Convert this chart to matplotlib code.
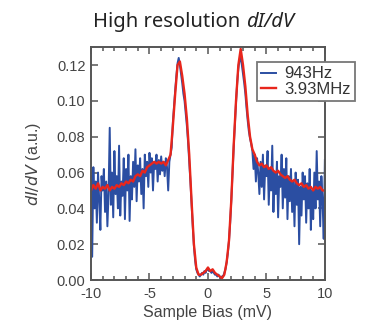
import matplotlib
matplotlib.use("Agg")
import matplotlib.pyplot as plt
import numpy as np
from matplotlib.ticker import MultipleLocator, FormatStrFormatter

# 943 Hz lock-in trace, bias -10 .. 10 mV in 0.1 mV steps
blue_left = [0.058, 0.013, 0.063, 0.040, 0.055, 0.032, 0.060, 0.045, 0.028, 0.058,
             0.050, 0.062, 0.038, 0.055, 0.030, 0.048, 0.085, 0.042, 0.060, 0.035,
             0.072, 0.048, 0.058, 0.040, 0.075, 0.036, 0.055, 0.047, 0.068, 0.034,
             0.062, 0.050, 0.070, 0.033, 0.058, 0.045, 0.066, 0.052, 0.073, 0.044,
             0.064, 0.055, 0.068, 0.048, 0.062, 0.040, 0.070, 0.058, 0.066, 0.052,
             0.071, 0.060, 0.068, 0.050, 0.066, 0.062, 0.070, 0.055, 0.067, 0.059,
             0.069, 0.061, 0.066, 0.058, 0.068, 0.063, 0.050, 0.066, 0.070]
blue_mid = [0.074, 0.088, 0.097, 0.106, 0.114, 0.121, 0.124, 0.120, 0.115, 0.110,
            0.104, 0.100, 0.093, 0.086, 0.077, 0.066, 0.055, 0.042, 0.030, 0.019,
            0.011, 0.006, 0.004, 0.003, 0.002, 0.003, 0.004, 0.003, 0.005, 0.004,
            0.006, 0.006, 0.005, 0.005, 0.004, 0.005, 0.004, 0.003, 0.003, 0.002,
            0.003, 0.002, 0.001, 0.002, 0.002, 0.004, 0.006, 0.010, 0.015, 0.022,
            0.032, 0.045, 0.060, 0.074, 0.087, 0.099, 0.110, 0.118, 0.123, 0.124,
            0.120, 0.115, 0.110, 0.104, 0.096, 0.089, 0.083, 0.079, 0.076]
blue_right = [0.072, 0.062, 0.070, 0.055, 0.068, 0.060, 0.048, 0.066, 0.052, 0.070,
              0.045, 0.064, 0.058, 0.072, 0.042, 0.062, 0.050, 0.075, 0.038, 0.060,
              0.048, 0.066, 0.035, 0.058, 0.052, 0.070, 0.040, 0.062, 0.046, 0.068,
              0.034, 0.058, 0.044, 0.062, 0.038, 0.055, 0.030, 0.060, 0.042, 0.056,
              0.020, 0.052, 0.036, 0.060, 0.045, 0.058, 0.032, 0.054, 0.040, 0.062,
              0.028, 0.050, 0.034, 0.060, 0.040, 0.072, 0.045, 0.055, 0.030, 0.058,
              0.044, 0.023, 0.067]
blue_y = blue_left + blue_mid + blue_right
blue_x = np.linspace(-10, 10, len(blue_y))

# 3.93 MHz trace, 0.2 mV steps
red_y = [0.050, 0.053, 0.051, 0.054, 0.050, 0.052, 0.051, 0.053, 0.050, 0.052,
         0.051, 0.053, 0.052, 0.054, 0.053, 0.055, 0.054, 0.056, 0.055, 0.058,
         0.059, 0.058, 0.061, 0.060, 0.063, 0.064, 0.065, 0.066, 0.065, 0.066,
         0.065, 0.066, 0.064, 0.067, 0.070, 0.086, 0.104, 0.120, 0.122, 0.114,
         0.104, 0.090, 0.070, 0.044, 0.020, 0.007, 0.003, 0.003, 0.004, 0.005,
         0.007, 0.005, 0.006, 0.004, 0.003, 0.002, 0.001, 0.003, 0.010, 0.022,
         0.045, 0.075, 0.100, 0.120, 0.129, 0.120, 0.108, 0.092, 0.080, 0.073,
         0.070, 0.066, 0.064, 0.065, 0.063, 0.064, 0.062, 0.063, 0.061, 0.060,
         0.061, 0.059, 0.058, 0.057, 0.058, 0.056, 0.055, 0.056, 0.054, 0.053,
         0.054, 0.052, 0.053, 0.051, 0.052, 0.050, 0.052, 0.051, 0.052, 0.050,
         0.050]
red_x = np.linspace(-10, 10, len(red_y))

gray = "#555555"
plt.rcParams.update({"font.family": "Liberation Sans", "font.size": 10,
                     "axes.unicode_minus": False})

fig = plt.figure(figsize=(3.73, 3.23), dpi=100)
ax = fig.add_axes([0.244, 0.133, 0.627, 0.721])

ax.plot(blue_x, blue_y, color="#2b4ea2", lw=1.4, label="943Hz")
ax.plot(red_x, red_y, color="#e8261c", lw=1.7, label="3.93MHz")

ax.set_xlim(-10, 10)
ax.set_ylim(0, 0.13)
ax.xaxis.set_major_locator(MultipleLocator(5))
ax.xaxis.set_minor_locator(MultipleLocator(1))
ax.yaxis.set_major_locator(MultipleLocator(0.02))
ax.yaxis.set_major_formatter(FormatStrFormatter("%.2f"))
ax.tick_params(which="both", direction="in", top=True, right=True,
               colors=gray, labelcolor="#444444", labelsize=10.5, width=1.1)
ax.tick_params(which="major", length=5)
ax.tick_params(which="minor", length=3)
ax.tick_params(axis="x", which="major", pad=5)
ax.tick_params(axis="y", which="major", pad=4)
for s in ax.spines.values():
    s.set_color(gray)
    s.set_linewidth(1.4)

ax.set_xlabel("Sample Bias (mV)", color="#444444", fontsize=11.5, labelpad=3)
ax.set_ylabel(r"$\it{dI/dV}$ (a.u.)", color="#444444", fontsize=11.5, labelpad=10)

# title: plain part + italic part, split at x = 243 px
fig.text(240 / 373, 0.932, "High resolution", ha="right", va="center",
         family="Noto Sans", fontsize=14.5, color="#222222")
fig.text(246 / 373, 0.932, "dI/dV", ha="left", va="center",
         family="Noto Sans", style="italic", fontsize=14.5, color="#222222")

leg = ax.legend(loc="upper left", bbox_to_anchor=(0.708, 0.935), frameon=True,
                fancybox=False, framealpha=1, edgecolor="#777777",
                fontsize=12, handlelength=0.9, handletextpad=0.5,
                borderpad=0.25, labelspacing=0.05, borderaxespad=0)
leg.get_frame().set_linewidth(1.3)
for t in leg.get_texts():
    t.set_color("#333333")

fig.savefig("out.png", dpi=100)
